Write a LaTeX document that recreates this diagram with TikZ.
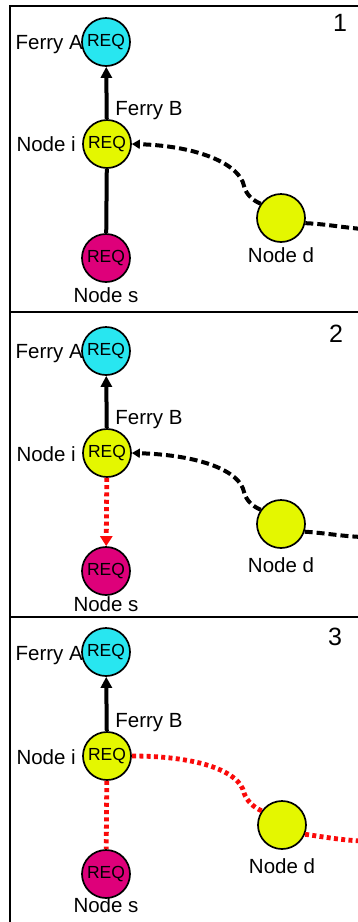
\documentclass[tikz,border=0pt]{standalone}
\usepackage{fontspec}
\setmainfont{Liberation Sans}
\usetikzlibrary{arrows.meta,calc}
\definecolor{fcyan}{RGB}{40,230,240}
\definecolor{fyellow}{RGB}{228,247,0}
\definecolor{fpink}{RGB}{222,0,122}
\definecolor{fred}{RGB}{250,10,10}
\begin{document}
\begin{tikzpicture}[x=1pt,y=-1pt,
 ball/.style={circle,draw=black,line width=1.7pt,minimum size=48pt,inner sep=0pt,font=\fontsize{17.5}{17.5}\selectfont},
 lbl/.style={font=\fontsize{20.5}{22}\selectfont,inner sep=0pt,text height=14.7pt,text depth=0pt},
 num/.style={font=\fontsize{25}{26}\selectfont,inner sep=0pt},
 solidarrow/.style={line width=4pt,-{Triangle[length=11pt,width=11pt]}},
 solidline/.style={line width=4pt},
 blackdash/.style={line width=4pt,dash pattern=on 8pt off 4pt},
 dashtip/.style={-{Triangle[length=8pt,width=9pt]}},
 reddot/.style={line width=4.8pt,draw=fred,dash pattern=on 4pt off 3.3pt},
 redtip/.style={-{Triangle[length=10pt,width=12pt]},fred},
 frame/.style={line width=1.8pt}]
\useasboundingbox (0,0) rectangle (357,922);
% frames
\draw[frame] (362,6) -- (10,6) -- (10,926);
\draw[frame] (10,312) -- (362,312);
\draw[frame] (10,617) -- (362,617);

% ---------- panel 1 ----------
\node[ball,fill=fcyan] (fa1) at (106,42) {REQ};
\node[ball,fill=fyellow] (ni1) at (107,144) {REQ};
\node[ball,fill=fpink] (ns1) at (106,258) {REQ};
\node[ball,fill=fyellow] (nd1) at (281,218) {};
\node[lbl,anchor=east] (lfa1) at (83,42) {Ferry A};
\node[lbl] (lfb1) at (149,108) {Ferry B};
\node[lbl,anchor=east] (lni1) at (76,144) {Node i};
\node[lbl] (lns1) at (106,295) {Node s};
\node[lbl] (lnd1) at (281,255) {Node d};
\node[num] (n1) at (340,23) {1};
\coordinate (out1) at (362,229);
\draw[solidarrow] (ni1) -- (fa1);
\draw[solidline] (ni1) -- (ns1);
\draw[blackdash,dashtip] (nd1.145) .. controls (252,200) and (246,194) .. (244,186) .. controls (240,165) and (200,146) .. (ni1.east);
\draw[blackdash] (nd1.-12) .. controls (325,224) and (340,227) .. (out1);

% ---------- panel 2 ----------
\node[ball,fill=fcyan] (fa2) at (106,351) {REQ};
\node[ball,fill=fyellow] (ni2) at (107,453) {REQ};
\node[ball,fill=fpink] (ns2) at (106,571) {REQ};
\node[ball,fill=fyellow] (nd2) at (281,524) {};
\node[lbl,anchor=east] (lfa2) at (83,351) {Ferry A};
\node[lbl] (lfb2) at (149,417) {Ferry B};
\node[lbl,anchor=east] (lni2) at (76,454) {Node i};
\node[lbl] (lns2) at (106,604) {Node s};
\node[lbl] (lnd2) at (281,565) {Node d};
\node[num] (n2) at (336,334) {2};
\coordinate (out2) at (362,537);
\draw[solidarrow] (ni2) -- (fa2);
\draw[reddot,redtip] (ni2) -- (ns2);
\draw[blackdash,dashtip] (nd2.145) .. controls (252,506) and (246,500) .. (244,492) .. controls (240,471) and (200,455) .. (ni2.east);
\draw[blackdash] (nd2.-18) .. controls (325,533) and (340,536) .. (out2);

% ---------- panel 3 ----------
\node[ball,fill=fcyan] (fa3) at (106,652) {REQ};
\node[ball,fill=fyellow] (ni3) at (107,756) {REQ};
\node[ball,fill=fpink] (ns3) at (106,874) {REQ};
\node[ball,fill=fyellow] (nd3) at (282,825) {};
\node[lbl,anchor=east] (lfa3) at (83,653) {Ferry A};
\node[lbl] (lfb3) at (149,720) {Ferry B};
\node[lbl,anchor=east] (lni3) at (76,757) {Node i};
\node[lbl] (lns3) at (106,905) {Node s};
\node[lbl] (lnd3) at (282,866) {Node d};
\node[num] (n3) at (335,637) {3};
\coordinate (out3) at (362,841);
\draw[solidarrow] (ni3) -- (fa3);
\draw[reddot] (ni3) -- (ns3);
\draw[reddot] (nd3.145) .. controls (253,807) and (247,801) .. (244,793) .. controls (240,772) and (200,756) .. (ni3.east);
\draw[reddot] (nd3.-22) .. controls (325,837) and (340,840) .. (out3);
\end{tikzpicture}
\end{document}
